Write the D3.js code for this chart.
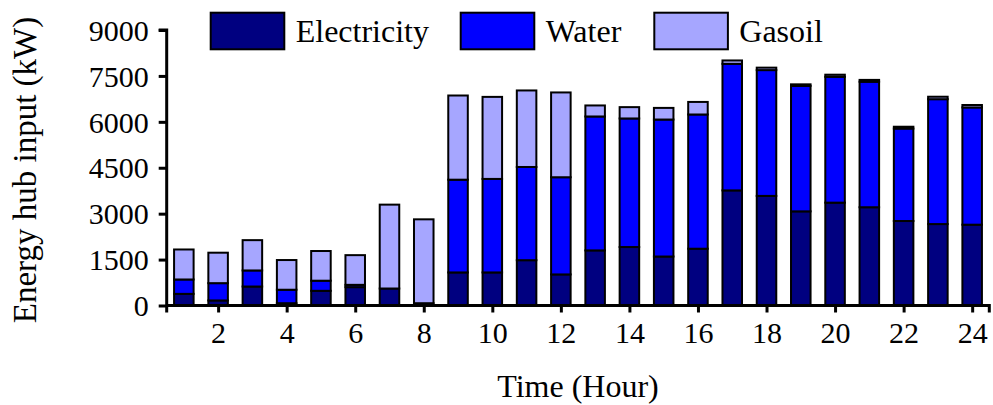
<!DOCTYPE html>
<html>
<head>
<meta charset="utf-8">
<script src="https://cdn.jsdelivr.net/npm/d3@7"></script>
<style>
  html, body { margin: 0; padding: 0; background: #fff; }
  svg { display: block; }
  text { font-family: "Liberation Serif", "Times New Roman", serif; fill: #000; }
</style>
</head>
<body>
<svg id="chart" width="993" height="405"></svg>
<script>
const hours = d3.range(1, 25);
const electricity = [380, 165, 620, 75, 480, 600, 555, 75, 1080, 1080, 1480, 1015, 1800, 1910, 1600, 1855, 3760, 3580, 3075, 3360, 3210, 2760, 2660, 2640];
const water = [470, 565, 525, 440, 330, 75, 0, 0, 3030, 3055, 3045, 3175, 4375, 4200, 4475, 4385, 4135, 4110, 4100, 4110, 4100, 3020, 4080, 3830];
const gasoil = [980, 995, 990, 970, 970, 970, 2740, 2740, 2750, 2680, 2500, 2770, 360, 370, 380, 410, 110, 80, 50, 70, 60, 60, 80, 80];
const seriesNames = ["Electricity", "Water", "Gasoil"];
const seriesColors = ["#000080", "#0000FF", "#A6A6FF"];
const yTicks = [0, 1500, 3000, 4500, 6000, 7500, 9000];
const xTicks = [2, 4, 6, 8, 10, 12, 14, 16, 18, 20, 22, 24];

const svg = d3.select("#chart");
const mLeft = 166.7, mRight = 989.3, mTop = 30, mBottom = 305.5;
const serif = '"Liberation Serif", "Times New Roman", serif';

const x = d3.scaleLinear().domain([0.5, 24.5]).range([mLeft, mRight]);
const y = d3.scaleLinear().domain([0, 9000]).range([mBottom, mTop]);

const rows = hours.map((h, i) => ({ hour: h, Electricity: electricity[i], Water: water[i], Gasoil: gasoil[i] }));
const stacked = d3.stack().keys(seriesNames)(rows);
const color = d3.scaleOrdinal().domain(seriesNames).range(seriesColors);

const barW = 0.57 * (x(2) - x(1));

svg.append("g").selectAll("g")
  .data(stacked)
  .join("g")
  .attr("fill", d => color(d.key))
  .selectAll("rect")
  .data(d => d)
  .join("rect")
  .attr("x", d => x(d.data.hour) - barW / 2)
  .attr("width", barW)
  .attr("y", d => y(d[1]))
  .attr("height", d => Math.max(0, y(d[0]) - y(d[1])))
  .attr("stroke", "#000")
  .attr("stroke-width", 2);

// Y axis
const yAxis = d3.axisLeft(y).tickValues(yTicks).tickSize(8).tickPadding(10).tickFormat(d3.format("d"));
const gy = svg.append("g").attr("transform", `translate(${mLeft},0)`).call(yAxis)
  .attr("font-family", serif).attr("font-size", 30);
gy.select(".domain").attr("stroke-width", 3).attr("d", `M-8,${mTop}H0V${mBottom + 7}`);
gy.selectAll(".tick line").attr("stroke-width", 3);
gy.selectAll(".tick text").attr("dy", "0.34em");

// X axis
const xAxis = d3.axisBottom(x).tickValues(xTicks).tickSize(7).tickPadding(9).tickFormat(d3.format("d"));
const gx = svg.append("g").attr("transform", `translate(0,${mBottom})`).call(xAxis)
  .attr("font-family", serif).attr("font-size", 30);
gx.select(".domain").attr("stroke-width", 3).attr("d", `M${mLeft},0H${mRight}V7`);
gx.selectAll(".tick line").attr("stroke-width", 3);

// Axis titles
svg.append("text")
  .attr("x", (mLeft + mRight) / 2)
  .attr("y", 397)
  .attr("text-anchor", "middle")
  .style("font-size", "32px")
  .text("Time (Hour)");

svg.append("text")
  .attr("transform", `translate(36,170) rotate(-90)`)
  .attr("text-anchor", "middle")
  .style("font-size", "33px")
  .text("Energy hub input (kW)");

// Legend
const legendX = [210.7, 460.7, 654.3];
const lg = svg.append("g").selectAll("g")
  .data(seriesNames)
  .join("g")
  .attr("transform", (d, i) => `translate(${legendX[i]},12.7)`);
lg.append("rect")
  .attr("width", 73.6)
  .attr("height", 36.6)
  .attr("fill", d => color(d))
  .attr("stroke", "#000")
  .attr("stroke-width", 2);
lg.append("text")
  .attr("x", 85)
  .attr("y", 29)
  .style("font-size", "32px")
  .text(d => d);
</script>
</body>
</html>
